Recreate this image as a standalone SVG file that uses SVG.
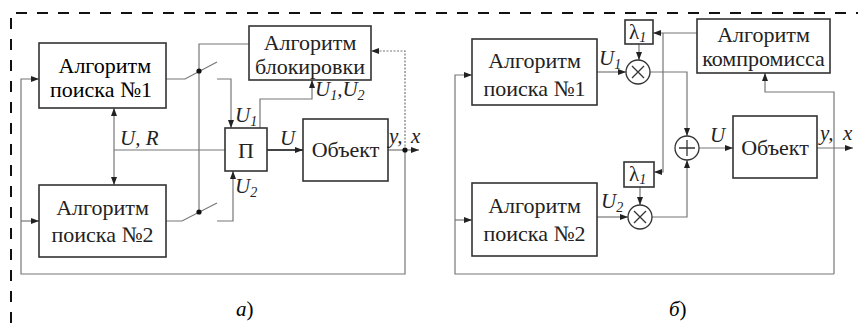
<svg xmlns="http://www.w3.org/2000/svg" width="858" height="323" viewBox="0 0 858 323">
<defs>
<marker id="ar" viewBox="0 0 8 6" refX="8" refY="3" markerWidth="8" markerHeight="6" markerUnits="userSpaceOnUse" orient="auto">
<path d="M0,0 L8,3 L0,6 z" fill="#222"/>
</marker>
</defs>
<rect width="858" height="323" fill="#fff"/>
<path d="M11,323 V13 H858" fill="none" stroke="#111" stroke-width="2" stroke-dasharray="11 10"/>

<g id="connectors" fill="none" stroke="#777" stroke-width="1.2">
<g marker-end="url(#ar)">
<path d="M114,150 V108"/>
<path d="M114,150 V185"/>
<path d="M217,79 H231 V128"/>
<path d="M217,221 H233 V171"/>
<path d="M260,128 V99 H312 V80"/>
<path d="M267,150 H303" stroke="#444" stroke-width="2"/>
<path d="M388,150 H419"/>
<path d="M405,150 V51 H371" stroke-dasharray="2 1.5"/>
<path d="M405,150 V274 H21 V79 H39"/>
<path d="M21,221 H39"/>
<path d="M697,33 H653"/>
<path d="M663,33 V172 H654"/>
<path d="M639,44 V60"/>
<path d="M640,187 V205"/>
<path d="M597,72 H626"/>
<path d="M597,217 H628"/>
<path d="M650,72 H687 V136"/>
<path d="M652,217 H687 V160"/>
<path d="M699,148 H733"/>
<path d="M817,148 H853"/>
<path d="M834,274 V92 H765 V73"/>
<path d="M834,274 H455 V75 H472"/>
<path d="M455,220 H472"/>
</g>
<path d="M114,150 H225"/>
<path d="M249,44 H199 V213"/>
<path d="M166,79 H185 L217,62"/>
<path d="M166,221 H182 L217,203"/>
<g fill="#111" stroke="none">
<circle cx="199" cy="71" r="2.6"/>
<circle cx="199" cy="212" r="2.6"/>
<circle cx="405" cy="150" r="2.6"/>
</g>
</g>

<g id="a-search1"><rect x="39" y="43" width="127" height="65" fill="#fff" stroke="#333" stroke-width="1.6"/>
<text font-family="'Liberation Serif'" font-size="22" x="58.5" y="73">Алгоритм</text><text font-family="'Liberation Serif'" font-size="22" x="50" y="97">поиска №1</text></g>
<g id="a-search2"><rect x="39" y="185" width="127" height="72" fill="#fff" stroke="#333" stroke-width="1.6"/>
<text font-family="Liberation Serif" font-size="22" fill="#222" text-anchor="middle" x="102.5" y="215">Алгоритм</text><text font-family="Liberation Serif" font-size="22" fill="#222" text-anchor="middle" x="102.5" y="242">поиска №2</text></g>
<g id="a-block"><rect x="249" y="26" width="122" height="54" fill="#fff" stroke="#333" stroke-width="1.6"/>
<text font-family="Times New Roman" font-size="22" fill="#222" text-anchor="middle" x="310" y="50">Алгоритм</text><text font-family="Times New Roman" font-size="22" fill="#222" text-anchor="middle" x="310" y="74">блокировки</text></g>
<g id="a-P"><rect x="225" y="128" width="42" height="43" fill="#fff" stroke="#333" stroke-width="1.6"/>
<text font-family="serif" font-size="22" fill="#222" text-anchor="middle" x="246" y="158">П</text></g>
<g id="a-object"><rect x="303" y="119" width="85" height="62" fill="#fff" stroke="#333" stroke-width="1.6"/>
<text font-family="serif" font-size="22" fill="#222" text-anchor="middle" x="345.5" y="157">Объект</text></g>
<g id="b-search1"><rect x="472" y="39" width="125" height="66" fill="#fff" stroke="#333" stroke-width="1.6"/>
<text font-family="Liberation Serif" font-size="22" fill="#222" text-anchor="middle" x="534.5" y="68">Алгоритм</text><text font-family="Liberation Serif" font-size="22" fill="#222" text-anchor="middle" x="534.5" y="96">поиска №1</text></g>
<g id="b-search2"><rect x="472" y="183" width="125" height="73" fill="#fff" stroke="#333" stroke-width="1.6"/>
<text font-family="Liberation Serif" font-size="22" fill="#222" text-anchor="middle" x="534.5" y="213">Алгоритм</text><text font-family="Liberation Serif" font-size="22" fill="#222" text-anchor="middle" x="534.5" y="241">поиска №2</text></g>
<g id="b-compromise"><rect x="697" y="19" width="133" height="54" fill="#fff" stroke="#333" stroke-width="1.6"/>
<text font-family="Liberation Serif" font-size="22" fill="#222" text-anchor="middle" x="763.5" y="42">Алгоритм</text><text font-family="Liberation Serif" font-size="22" fill="#222" text-anchor="middle" x="763.5" y="66">компромисса</text></g>
<g id="b-object"><rect x="733" y="116" width="84" height="62" fill="#fff" stroke="#333" stroke-width="1.6"/>
<text font-family="Liberation Serif" font-size="22" fill="#222" text-anchor="middle" x="775" y="155">Объект</text></g>

<g id="b-lambda1"><rect x="625" y="20" width="28" height="24" fill="#fff" stroke="#333" stroke-width="1.6"/>
<text font-family="Liberation Serif" font-size="21" fill="#222" x="629" y="39">λ<tspan font-size="14" font-style="italic" dy="3">1</tspan></text></g>
<g id="b-lambda2"><rect x="624" y="162" width="30" height="25" fill="#fff" stroke="#333" stroke-width="1.6"/>
<text font-family="Liberation Serif" font-size="21" fill="#222" x="629" y="181">λ<tspan font-size="14" font-style="italic" dy="3">1</tspan></text></g>
<g id="b-mult1" fill="#fff" stroke="#333" stroke-width="1.3"><circle cx="638" cy="72" r="12"/>
<path d="M632,66 L644,78 M644,66 L632,78"/></g>
<g id="b-mult2" fill="#fff" stroke="#333" stroke-width="1.3"><circle cx="640" cy="217" r="12"/>
<path d="M634,211 L646,223 M646,211 L634,223"/></g>
<g id="b-sum" fill="#fff" stroke="#333" stroke-width="1.3"><circle cx="687" cy="148" r="12"/>
<path d="M679,148 H695 M687,140 V156"/></g>

<g id="labels" fill="#222" font-size="21" font-style="italic">
<text font-family="Liberation Serif" x="120" y="145">U, R</text>
<text font-family="Liberation Serif" x="280" y="145">U</text>
<text font-family="Liberation Serif" x="235" y="122">U<tspan font-size="14" dy="4">1</tspan></text>
<text font-family="Liberation Serif" x="235" y="193">U<tspan font-size="14" dy="4">2</tspan></text>
<text font-family="Liberation Serif" x="315" y="96">U<tspan font-size="14" dy="4">1</tspan><tspan dy="-4">,U</tspan><tspan font-size="14" dy="4">2</tspan></text>
<text font-family="Liberation Serif" x="389" y="143">y,</text>
<text font-family="Liberation Serif" x="411" y="143">x</text>
<text font-family="Liberation Serif" x="599" y="65">U<tspan font-size="14" dy="4">1</tspan></text>
<text font-family="Liberation Serif" x="601" y="208">U<tspan font-size="14" dy="4">2</tspan></text>
<text font-family="Liberation Serif" x="710" y="142">U</text>
<text font-family="Liberation Serif" x="820" y="140">y,</text>
<text font-family="Liberation Serif" x="843" y="140">x</text>
</g>
<text font-family="Liberation Serif" font-size="21" font-style="italic" x="236" y="316">а<tspan font-style="normal">)</tspan></text>
<text font-family="Liberation Serif" font-size="21" font-style="italic" x="669" y="316">б<tspan font-style="normal">)</tspan></text>
</svg>
